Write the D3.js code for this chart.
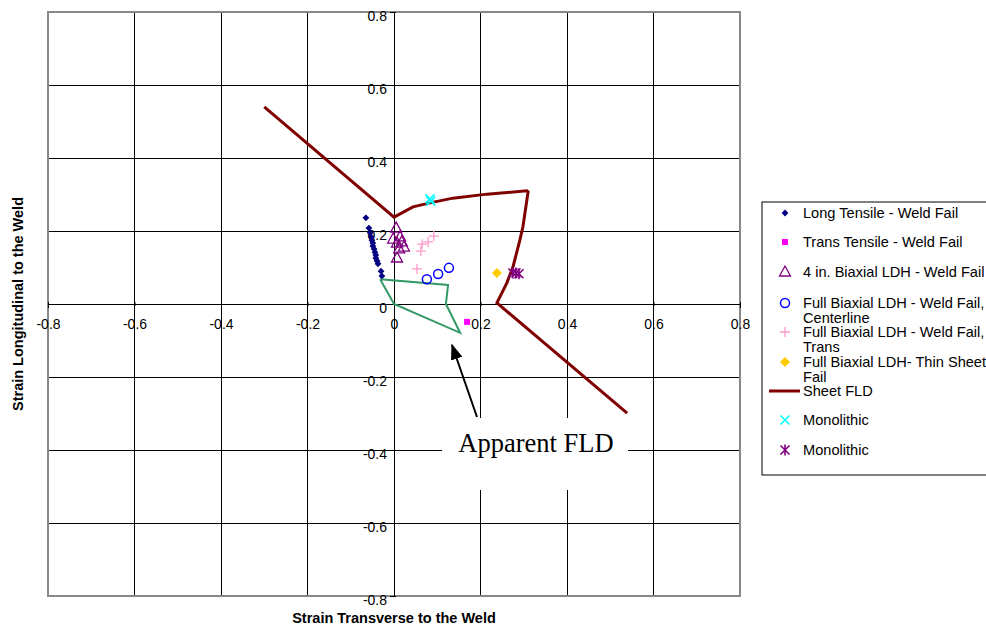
<!DOCTYPE html>
<html>
<head>
<meta charset="utf-8">
<script src="https://cdn.jsdelivr.net/npm/d3@7"></script>
<style>
  html, body { margin: 0; padding: 0; background: #fff; }
  svg { display: block; font-family: "Liberation Sans", Arial, sans-serif; }
</style>
</head>
<body>
<svg id="chart" width="986" height="628"></svg>
<script>
// Axis ticks
const tickValues = [-0.8, -0.6, -0.4, -0.2, 0, 0.2, 0.4, 0.6, 0.8];
const tickLabels = ["-0.8", "-0.6", "-0.4", "-0.2", "0", "0.2", "0.4", "0.6", "0.8"];

// Series: [transverse strain, longitudinal strain]
const longTensile = [
  [-0.065, 0.236], [-0.058, 0.208], [-0.055, 0.195], [-0.053, 0.184], [-0.051, 0.175],
  [-0.049, 0.167], [-0.049, 0.159], [-0.046, 0.151], [-0.044, 0.142], [-0.042, 0.134],
  [-0.042, 0.126], [-0.039, 0.118], [-0.037, 0.110], [-0.030, 0.090], [-0.028, 0.077]
];
const transTensile = [[0.169, -0.049]];
const biaxial4in = [
  [0.005, 0.208], [-0.002, 0.178], [0.014, 0.184], [0.007, 0.167],
  [0.018, 0.170], [0.023, 0.156], [0.012, 0.151], [0.007, 0.126]
];
const fullBiaxialCenterline = [[0.076, 0.068], [0.102, 0.082], [0.127, 0.099]];
const fullBiaxialTrans = [[0.092, 0.186], [0.079, 0.170], [0.065, 0.164], [0.062, 0.145], [0.053, 0.096]];
const fullBiaxialThinSheet = [[0.238, 0.085]];
const sheetFLD = [
  [-0.30, 0.54], [0, 0.238], [0.044, 0.266], [0.083, 0.277], [0.136, 0.290],
  [0.215, 0.301], [0.307, 0.310], [0.310, 0.307], [0.298, 0.211], [0.291, 0.175],
  [0.275, 0.101], [0.261, 0.058], [0.238, 0.003], [0.539, -0.299]
];
const monolithicX = [[0.083, 0.288], [0.085, 0.282]];
const monolithicStar = [[0.275, 0.085], [0.282, 0.085], [0.289, 0.083]];
const apparentFLD = [
  [-0.032, 0.068], [0.125, 0.052], [0.120, 0.0], [0.153, -0.079], [0, 0], [-0.032, 0.068]
];

const legendLabels = [
  ["Long Tensile - Weld Fail"],
  ["Trans Tensile - Weld Fail"],
  ["4 in. Biaxial LDH - Weld Fail"],
  ["Full Biaxial LDH - Weld Fail,", "Centerline"],
  ["Full Biaxial LDH - Weld Fail,", "Trans"],
  ["Full Biaxial LDH- Thin Sheet", "Fail"],
  ["Sheet FLD"],
  ["Monolithic"],
  ["Monolithic"]
];

const SANS = "'Liberation Sans', Arial, sans-serif";
const SERIF = "'Liberation Serif', 'Times New Roman', serif";

const svg = d3.select("#chart");
const x = d3.scaleLinear().domain([-0.8, 0.8]).range([48, 740]);
const y = d3.scaleLinear().domain([-0.8, 0.8]).range([596, 12]);

// Grid
const grid = svg.append("g");
tickValues.forEach(v => {
  grid.append("line").attr("x1", x(v)).attr("x2", x(v)).attr("y1", y(0.8)).attr("y2", y(-0.8))
    .attr("stroke", "#000").attr("stroke-width", 1).attr("shape-rendering", "crispEdges");
  grid.append("line").attr("y1", y(v)).attr("y2", y(v)).attr("x1", x(-0.8)).attr("x2", x(0.8))
    .attr("stroke", "#000").attr("stroke-width", 1).attr("shape-rendering", "crispEdges");
});
svg.append("rect").attr("x", x(-0.8)).attr("y", y(0.8))
  .attr("width", x(0.8) - x(-0.8)).attr("height", y(-0.8) - y(0.8))
  .attr("fill", "none").attr("stroke", "#888").attr("stroke-width", 1.5)
  .attr("shape-rendering", "crispEdges");

// Axes crossing at the origin
const xAxis = d3.axisBottom(x).tickValues(tickValues)
  .tickFormat((d, i) => tickLabels[i]).tickSize(4).tickPadding(11);
const yAxis = d3.axisLeft(y).tickValues(tickValues)
  .tickFormat((d, i) => tickLabels[i]).tickSize(4).tickPadding(3);
const gx = svg.append("g").attr("transform", `translate(0,${y(0)})`).call(xAxis);
const gy = svg.append("g").attr("transform", `translate(${x(0)},0)`).call(yAxis);
[gx, gy].forEach(g => {
  g.attr("font-family", null).attr("font-size", null);
  g.select(".domain").attr("stroke", "#000");
  g.selectAll(".tick line").attr("stroke", "#000").attr("transform", g === gx ? "translate(0,-2)" : "translate(2,0)");
  g.selectAll("text").style("font-size", "14px").style("font-family", SANS).attr("fill", "#000");
});
// keep the minus signs of the value labels clear of the gridlines
gy.selectAll(".tick text").attr("dy", "0.58em");

// Axis titles
svg.append("text").attr("x", x(0)).attr("y", 623).attr("text-anchor", "middle")
  .style("font-size", "14.5px").style("font-weight", "bold").style("font-family", SANS)
  .text("Strain Transverse to the Weld");
svg.append("text").attr("transform", `translate(23,${y(0)}) rotate(-90)`)
  .attr("text-anchor", "middle").style("font-size", "14.5px").style("font-weight", "bold")
  .style("font-family", SANS).text("Strain Longitudinal to the Weld");

const line = d3.line().x(d => x(d[0])).y(d => y(d[1]));

// Apparent FLD outline
svg.append("path").datum(apparentFLD).attr("d", line)
  .attr("fill", "none").attr("stroke", "#339966").attr("stroke-width", 2);

// Sheet FLD
svg.append("path").datum(sheetFLD).attr("d", line)
  .attr("fill", "none").attr("stroke", "#800000").attr("stroke-width", 3)
  .attr("stroke-linejoin", "miter");

// Marker drawers
function diamondPath(cx, cy, r) {
  return `M${cx},${cy - r}L${cx + r},${cy}L${cx},${cy + r}L${cx - r},${cy}Z`;
}
function drawMarker(g, kind, cx, cy) {
  switch (kind) {
    case "diamond":
      g.append("path").attr("d", diamondPath(cx, cy, 3.4)).attr("fill", "#000080"); break;
    case "square":
      g.append("rect").attr("x", cx - 3).attr("y", cy - 3).attr("width", 6).attr("height", 6).attr("fill", "#ff00ff"); break;
    case "triangle":
      g.append("path").attr("d", `M${cx},${cy - 6}L${cx + 5.5},${cy + 4}L${cx - 5.5},${cy + 4}Z`)
        .attr("fill", "none").attr("stroke", "#800080").attr("stroke-width", 1.3); break;
    case "circle":
      g.append("circle").attr("cx", cx).attr("cy", cy).attr("r", 4.5)
        .attr("fill", "none").attr("stroke", "#0000ff").attr("stroke-width", 1.5); break;
    case "plus":
      g.append("path").attr("d", `M${cx - 5},${cy}H${cx + 5}M${cx},${cy - 5}V${cy + 5}`)
        .attr("stroke", "#ff99cc").attr("stroke-width", 1.3); break;
    case "gold":
      g.append("path").attr("d", diamondPath(cx, cy, 5)).attr("fill", "#ffcc00"); break;
    case "x":
      g.append("path").attr("d", `M${cx - 4.5},${cy - 4.5}L${cx + 4.5},${cy + 4.5}M${cx - 4.5},${cy + 4.5}L${cx + 4.5},${cy - 4.5}`)
        .attr("stroke", "#00ffff").attr("stroke-width", 1.6); break;
    case "star":
      g.append("path").attr("d", `M${cx - 4.5},${cy - 4.5}L${cx + 4.5},${cy + 4.5}M${cx - 4.5},${cy + 4.5}L${cx + 4.5},${cy - 4.5}M${cx},${cy - 5.5}V${cy + 5.5}`)
        .attr("stroke", "#800080").attr("stroke-width", 1.6); break;
  }
}
const series = [
  [longTensile, "diamond"], [transTensile, "square"], [biaxial4in, "triangle"],
  [fullBiaxialCenterline, "circle"], [fullBiaxialTrans, "plus"], [fullBiaxialThinSheet, "gold"],
  [monolithicX, "x"], [monolithicStar, "star"]
];
const marks = svg.append("g");
series.forEach(([data, kind]) => data.forEach(d => drawMarker(marks, kind, x(d[0]), y(d[1]))));

// Annotation
svg.append("rect").attr("x", 442).attr("y", 418).attr("width", 186).attr("height", 72).attr("fill", "#fff");
svg.append("defs").append("marker").attr("id", "arrowhead").attr("viewBox", "0 0 10 10")
  .attr("refX", 9).attr("refY", 5).attr("markerWidth", 16).attr("markerHeight", 12)
  .attr("markerUnits", "userSpaceOnUse").attr("orient", "auto").attr("preserveAspectRatio", "none")
  .append("path").attr("d", "M0,0L10,5L0,10Z").attr("fill", "#000");
svg.append("line").attr("x1", 477).attr("y1", 417).attr("x2", 452).attr("y2", 345)
  .attr("stroke", "#000").attr("stroke-width", 2).attr("marker-end", "url(#arrowhead)");
svg.append("text").attr("x", 536).attr("y", 452).attr("text-anchor", "middle")
  .style("font-family", SERIF).style("font-size", "26.5px").attr("fill", "#000")
  .text("Apparent FLD");

// Legend
const lg = svg.append("g");
lg.append("rect").attr("x", 762).attr("y", 202).attr("width", 240).attr("height", 273)
  .attr("fill", "#fff").attr("stroke", "#000").attr("stroke-width", 1);
const rowY = [213, 242, 272, 303, 332, 362, 391, 420, 450];
const legendKinds = ["diamond", "square", "triangle", "circle", "plus", "gold", "line", "x", "star"];
legendLabels.forEach((lines, i) => {
  const cy = rowY[i];
  const kind = legendKinds[i];
  if (kind === "line") {
    lg.append("line").attr("x1", 769).attr("x2", 800).attr("y1", cy).attr("y2", cy)
      .attr("stroke", "#800000").attr("stroke-width", 3);
  } else {
    drawMarker(lg, kind, 785, cy);
  }
  lines.forEach((t, j) => {
    lg.append("text").attr("x", 803).attr("y", cy + 5 + j * 15)
      .style("font-size", "14.6px").style("font-family", SANS).attr("fill", "#000").text(t);
  });
});
</script>
</body>
</html>
